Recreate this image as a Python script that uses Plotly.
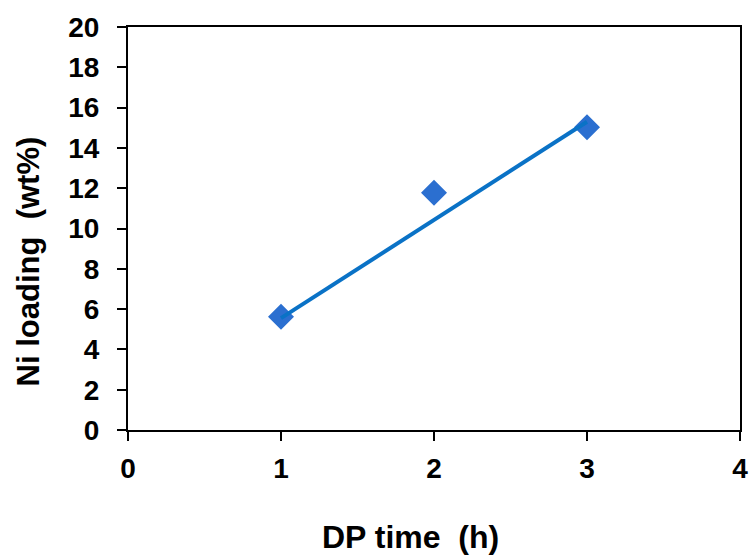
import plotly.graph_objects as go

# Data
dp_time = [1, 2, 3]
ni_loading = [5.62, 11.78, 15.02]
trend_x = [1, 3]
trend_y = [5.55, 15.3]

x_ticks = [0, 1, 2, 3, 4]
y_ticks = [0, 2, 4, 6, 8, 10, 12, 14, 16, 18, 20]

FONT = "Liberation Sans, Arial, sans-serif"

fig = go.Figure()
fig.add_trace(go.Scatter(
    x=dp_time, y=ni_loading, mode="markers",
    marker=dict(symbol="diamond", size=20, color="#2B6FD0", line=dict(width=0)),
    showlegend=False, cliponaxis=False,
))
fig.add_trace(go.Scatter(
    x=trend_x, y=trend_y, mode="lines",
    line=dict(color="#0A72C6", width=4),
    showlegend=False,
))

fig.update_layout(
    width=751, height=558,
    margin=dict(l=128, r=11, t=27, b=128, autoexpand=False),
    paper_bgcolor="white", plot_bgcolor="white",
    font=dict(family=FONT, color="black"),
    annotations=[
        dict(text="<b>DP time  (h)</b>", xref="paper", yref="paper",
             x=0.462, y=-0.266, xanchor="center", yanchor="middle",
             showarrow=False, font=dict(size=32, family=FONT)),
        dict(text="<b>Ni loading  (wt%)</b>", xref="paper", yref="paper",
             x=-0.162, y=0.418, xanchor="center", yanchor="middle",
             textangle=-90, showarrow=False, font=dict(size=31, family=FONT)),
    ],
)
fig.update_xaxes(
    range=[0, 4], tickvals=x_ticks, ticktext=[f"<b>{v}</b>" for v in x_ticks],
    ticks="outside", ticklen=9, tickwidth=2, tickcolor="black",
    showline=True, linecolor="black", linewidth=2, mirror=True,
    showgrid=False, zeroline=False, automargin=False,
    tickfont=dict(size=28, family=FONT), ticklabelstandoff=3,
)
fig.update_yaxes(
    range=[0, 20], tickvals=y_ticks, ticktext=[f"<b>{v}</b>" for v in y_ticks],
    ticks="outside", ticklen=9, tickwidth=2, tickcolor="black",
    showline=True, linecolor="black", linewidth=2, mirror=True,
    showgrid=False, zeroline=False, automargin=False,
    tickfont=dict(size=28, family=FONT), ticklabelstandoff=12,
)

fig.write_html(
    "out.html",
    config={"displayModeBar": False},
    post_script="document.body.style.margin='0';document.body.style.overflow='hidden';",
)
